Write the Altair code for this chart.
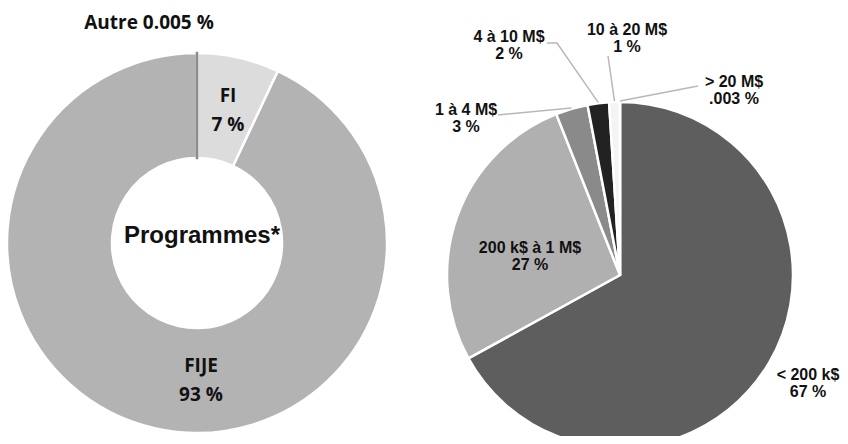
import math
import altair as alt
import pandas as pd

# ---------------- data ----------------
prog_cats = ["FI", "FIJE", "Autre"]
prog_vals = [7, 93, 0.005]
prog_pct = ["7 %", "93 %", "0.005 %"]
prog_fill = ["#dcdcdc", "#b3b3b3", "#8a8a8a"]
prog_edge = ["#ffffff", "#ffffff", "#8c8c8c"]
prog_edge_w = [2.5, 2.5, 1.3]

size_cats = ["< 200 k$", "200 k$ à 1 M$", "1 à 4 M$", "4 à 10 M$", "10 à 20 M$", "> 20 M$"]
size_vals = [67, 27, 3, 2, 1, 0.003]
size_pct = ["67 %", "27 %", "3 %", "2 %", "1 %", ".003 %"]
size_fill = ["#5e5e5e", "#b0b0b0", "#8a8a8a", "#222222", "#f4f4f4", "#d0d0d0"]

center_title = "Programmes*"

# ---------------- layout (pixels inside the view) ----------------
W, H = 832, 428
L_CX, L_CY, L_RO, L_RI = 189, 235, 190, 85
R_CX, R_CY, R_R = 612, 267, 173

# label anchors (x centre, baseline of first line)
prog_label_pos = {"FI": (220, 94), "FIJE": (193, 364), "Autre": (141, 21)}
size_label_pos = {
    "< 200 k$": (800, 372),
    "200 k$ à 1 M$": (522, 245),
    "1 à 4 M$": (458, 107),
    "4 à 10 M$": (501, 34),
    "10 à 20 M$": (619, 27),
    "> 20 M$": (726, 79),
}
# label-side points of leader lines
leader_label_pts = {
    "1 à 4 M$": [(490, 107)],
    "4 à 10 M$": [(539, 35), (549, 35)],
    "10 à 20 M$": [(600, 48)],
    "> 20 M$": [(690, 78)],
}

# ---------------- tables ----------------
prog_df = pd.DataFrame({
    "cat": prog_cats, "val": prog_vals, "idx": list(range(len(prog_cats))),
})
size_df = pd.DataFrame({
    "cat": size_cats, "val": size_vals, "idx": list(range(len(size_cats))),
})

prog_lab_rows = []
for c, p in zip(prog_cats, prog_pct):
    x, y = prog_label_pos[c]
    txt = f"{c} {p}" if c == "Autre" else f"{c}\n{p}"
    prog_lab_rows.append({"t": txt, "lx": x, "ly": y})
prog_lab_df = pd.DataFrame(prog_lab_rows)

size_lab_rows = []
for c, p in zip(size_cats, size_pct):
    x, y = size_label_pos[c]
    size_lab_rows.append({"t": f"{c}\n{p}", "lx": x, "ly": y})
size_lab_df = pd.DataFrame(size_lab_rows)

tot = sum(size_vals)
cum = 0.0
mids = []
for v in size_vals:
    mids.append((cum + v / 2) / tot * 2 * math.pi)
    cum += v

lead_rows = []
for c, pts in leader_label_pts.items():
    i = size_cats.index(c)
    k = 0
    for (px, py) in pts:
        lead_rows.append({"g": c, "o": k, "lx": px, "ly": py})
        k += 1
    a = mids[i]
    lead_rows.append({"g": c, "o": k,
                      "lx": R_CX + (R_R + 1) * math.sin(a),
                      "ly": R_CY - (R_R + 1) * math.cos(a)})
lead_df = pd.DataFrame(lead_rows)

title_df = pd.DataFrame({"t": [center_title], "lx": [194], "ly": [235]})

# ---------------- marks ----------------
donut = alt.Chart(prog_df).mark_arc(
    outerRadius=L_RO, innerRadius=L_RI
).encode(
    theta=alt.Theta("val:Q", stack=True),
    order=alt.Order("idx:Q"),
    color=alt.Color("cat:N", scale=alt.Scale(domain=prog_cats, range=prog_fill), legend=None),
    stroke=alt.Stroke("cat:N", scale=alt.Scale(domain=prog_cats, range=prog_edge), legend=None),
    strokeWidth=alt.StrokeWidth("cat:N", scale=alt.Scale(domain=prog_cats, range=prog_edge_w), legend=None),
    x=alt.value(L_CX), y=alt.value(L_CY),
)

pie = alt.Chart(size_df).mark_arc(
    outerRadius=R_R, stroke="#ffffff", strokeWidth=2.5
).encode(
    theta=alt.Theta("val:Q", stack=True),
    order=alt.Order("idx:Q"),
    color=alt.Color("cat:N", scale=alt.Scale(domain=size_cats, range=size_fill), legend=None),
    x=alt.value(R_CX), y=alt.value(R_CY),
)

leaders = alt.Chart(lead_df).mark_line(color="#b8b8b8", strokeWidth=1.5).encode(
    x=alt.X("lx:Q", scale=None), y=alt.Y("ly:Q", scale=None),
    detail="g:N", order="o:Q",
)

prog_text = alt.Chart(prog_lab_df).mark_text(
    font="Open Sans", fontWeight="bold", fontSize=19, lineBreak="\n", lineHeight=29,
    align="center", baseline="alphabetic", color="#111111",
).encode(x=alt.X("lx:Q", scale=None), y=alt.Y("ly:Q", scale=None), text="t:N")

title_text = alt.Chart(title_df).mark_text(
    font="Liberation Sans", fontWeight="bold", fontSize=24,
    align="center", baseline="alphabetic", color="#111111",
).encode(x=alt.X("lx:Q", scale=None), y=alt.Y("ly:Q", scale=None), text="t:N")

size_text = alt.Chart(size_lab_df).mark_text(
    font="Liberation Sans", fontWeight="bold", fontSize=16, lineBreak="\n", lineHeight=17,
    align="center", baseline="alphabetic", color="#111111",
).encode(x=alt.X("lx:Q", scale=None), y=alt.Y("ly:Q", scale=None), text="t:N")

chart = alt.layer(
    donut, pie, leaders, prog_text, title_text, size_text
).resolve_scale(
    color="independent", stroke="independent", strokeWidth="independent", theta="independent"
).properties(
    width=W, height=H, padding=0,
    autosize=alt.AutoSizeParams(type="none"),
).configure_view(stroke=None)

chart.save("out.html", embed_options={"renderer": "svg", "actions": False})
